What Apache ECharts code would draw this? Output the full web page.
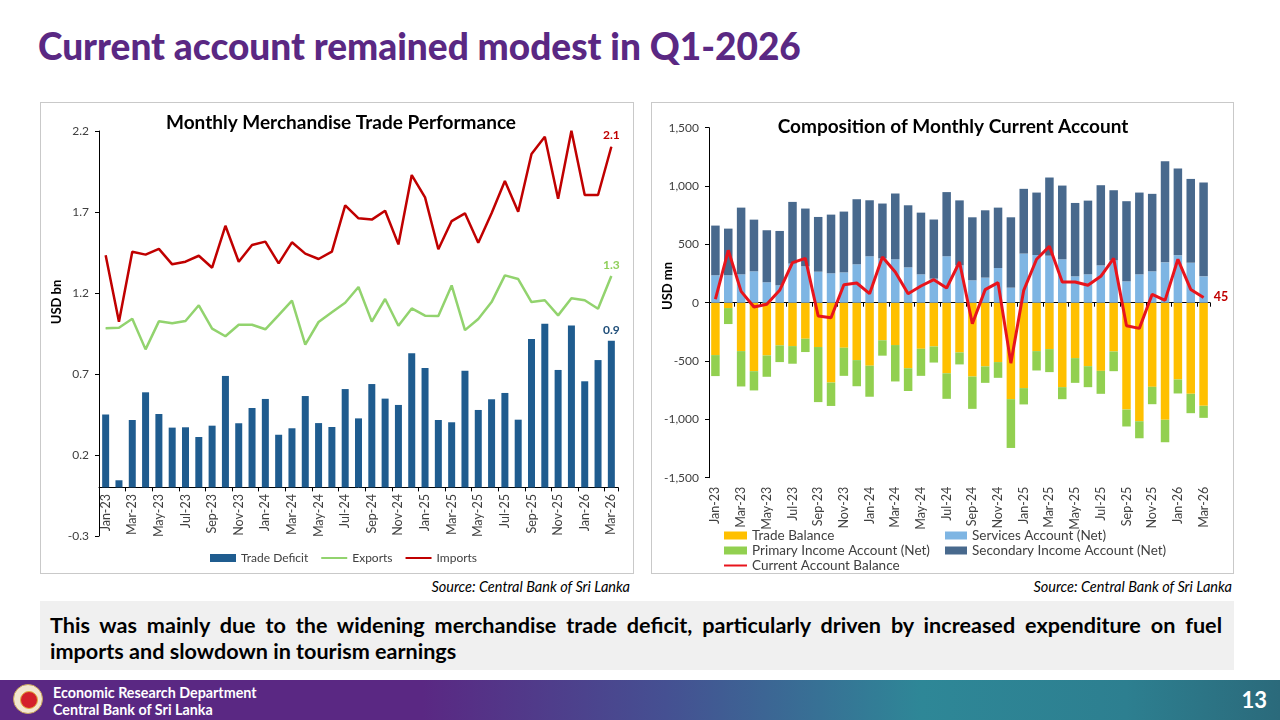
<!DOCTYPE html>
<html><head><meta charset="utf-8">
<script src="https://cdn.jsdelivr.net/npm/echarts@6/dist/echarts.min.js"></script>
<style>
body{margin:0;width:1280px;height:720px;overflow:hidden;background:#fff;font-family:Lato,'Open Sans',sans-serif;position:relative}
#title{position:absolute;left:38px;top:23px;font-size:37px;font-weight:900;color:#5a2883;white-space:nowrap;letter-spacing:0}
.panel{position:absolute;border:1px solid #c9c9c9;box-sizing:border-box}
.src{position:absolute;top:578px;font-size:14.5px;font-style:italic;color:#000}
#box{position:absolute;left:40px;top:601px;width:1194px;height:69px;background:#f0f0f0;box-sizing:border-box;padding:11px 12px 0 10px;font-size:21.6px;font-weight:700;color:#000;line-height:26px}
#box .l1{text-align:justify;text-align-last:justify;white-space:nowrap}
#footer{position:absolute;left:0;top:680px;width:1280px;height:40px;background:linear-gradient(to right,#5a2883 0%,#5a2883 33%,#455092 52%,#2e8797 72%,#2d7f90 88%,#2b6a7b 100%)}
#logo{position:absolute;left:13px;top:4px;width:30px;height:30px;border-radius:50%;background:#f3e6d0;border:1px solid #c9a35a;box-sizing:border-box}
#logo div{position:absolute;left:6px;top:6px;width:16px;height:16px;border-radius:50%;background:#d4202a;border:1px solid #e0b040}
#ft1{position:absolute;left:53px;top:4px;color:#fff;font-size:14.3px;font-weight:700;line-height:17px}
#pg{position:absolute;right:13px;top:6px;color:#fff;font-size:22px;font-weight:700}
#chart{position:absolute;left:0;top:0;width:1280px;height:720px}
</style></head><body>
<div id="title">Current account remained modest in Q1-2026</div>
<div class="panel" style="left:40px;top:102px;width:594px;height:472px"></div>
<div class="panel" style="left:651px;top:102px;width:583px;height:472px"></div>
<div class="src" style="right:650px">Source: Central Bank of Sri Lanka</div>
<div class="src" style="right:48px">Source: Central Bank of Sri Lanka</div>
<div id="box"><div class="l1">This was mainly due to the widening merchandise trade deficit, particularly driven by increased expenditure on fuel</div><div>imports and slowdown in tourism earnings</div></div>
<div id="footer"><div id="logo"><div></div></div><div id="ft1">Economic Research Department<br>Central Bank of Sri Lanka</div><div id="pg">13</div></div>
<div id="chart"></div>
<script>
const months = ['Jan-23','Feb-23','Mar-23','Apr-23','May-23','Jun-23','Jul-23','Aug-23','Sep-23','Oct-23','Nov-23','Dec-23',
'Jan-24','Feb-24','Mar-24','Apr-24','May-24','Jun-24','Jul-24','Aug-24','Sep-24','Oct-24','Nov-24','Dec-24',
'Jan-25','Feb-25','Mar-25','Apr-25','May-25','Jun-25','Jul-25','Aug-25','Sep-25','Oct-25','Nov-25','Dec-25',
'Jan-26','Feb-26','Mar-26'];
// Left chart (USD bn)
const tradeDeficit = [0.45,0.044,0.416,0.587,0.453,0.369,0.371,0.311,0.381,0.688,0.396,0.49,
0.546,0.325,0.365,0.564,0.397,0.373,0.607,0.426,0.638,0.548,0.509,0.828,
0.737,0.416,0.402,0.72,0.478,0.544,0.583,0.418,0.916,1.01,0.725,1.0,
0.655,0.786,0.906];
const exportsBn = [0.982,0.986,1.041,0.852,1.025,1.013,1.027,1.124,0.98,0.933,1.004,1.004,
0.976,1.064,1.153,0.881,1.021,1.081,1.14,1.237,1.023,1.163,0.998,1.105,
1.06,1.058,1.247,0.971,1.04,1.144,1.309,1.286,1.144,1.155,1.062,1.167,
1.155,1.103,1.305];
const importsBn = [1.433,1.023,1.455,1.437,1.472,1.377,1.393,1.43,1.356,1.615,1.393,1.496,
1.517,1.383,1.513,1.443,1.41,1.455,1.741,1.661,1.653,1.708,1.5,1.928,
1.79,1.47,1.644,1.692,1.51,1.692,1.891,1.702,2.058,2.165,1.782,2.202,
1.805,1.805,2.103];
// Right chart (USD mn)
const tradeBalance = [-449,-46,-415,-587,-452,-366,-372,-309,-380,-684,-386,-492,
-540,-322,-363,-562,-395,-375,-605,-426,-633,-546,-509,-827,
-732,-415,-398,-724,-475,-544,-584,-418,-916,-1016,-721,-1004,
-658,-781,-884];
const primaryIncome = [-180,-137,-303,-165,-183,-143,-151,-114,-472,-201,-241,-224,
-266,-132,-312,-195,-232,-138,-219,-103,-277,-141,-135,-418,
-140,-166,-197,-103,-212,-180,-197,-169,-145,-146,-149,-192,
-120,-166,-103];
const servicesNet = [235,235,243,269,175,149,335,312,266,252,260,329,
398,380,372,303,243,206,398,320,192,215,297,129,
421,409,403,372,226,243,320,363,183,243,269,346,
406,343,226];
const secondaryIncome = [426,400,572,443,446,466,529,495,469,503,521,558,
480,470,564,532,529,507,550,557,540,577,518,603,
555,535,670,632,629,632,687,601,687,701,664,867,
744,718,804];
const currentAccount = [31,449,97,-37,-14,106,343,380,-114,-129,154,169,
77,392,263,77,143,197,126,349,-180,112,172,-518,
106,372,483,177,177,149,226,380,-197,-220,72,20,
372,114,45];
const leftTicks = [-0.3,0.2,0.7,1.2,1.7,2.2];
const rightTicks = [-1500,-1000,-500,0,500,1000,1500];

const last = months.length - 1;
const FONT = 'Lato, "Open Sans", sans-serif';
const lastLabel = (color, pos, dec) => ({
  show: true, position: pos, color: color, fontWeight: 'bold', fontSize: 12, fontFamily: FONT, distance: 5,
  formatter: p => p.dataIndex === last ? (dec ? Number(p.value).toFixed(1) : String(p.value)) : ''
});
const hideSym = {color: 'rgba(0,0,0,0)', borderColor: 'rgba(0,0,0,0)', borderWidth: 0};

const chart = echarts.init(document.getElementById('chart'), null, {renderer: 'canvas'});
const xText = {color: '#404040', fontSize: 12.5, fontFamily: FONT};
const yText = {color: '#404040', fontSize: 12, fontFamily: FONT};
chart.setOption({
  animation: false,
  backgroundColor: 'transparent',
  textStyle: {fontFamily: FONT},
  title: [
    {text: 'Monthly Merchandise Trade Performance', left: 336, top: 108, textAlign: 'center',
     textStyle: {fontSize: 19, fontWeight: 'bold', color: '#000', fontFamily: FONT}},
    {text: 'Composition of Monthly Current Account', left: 948, top: 112, textAlign: 'center',
     textStyle: {fontSize: 19, fontWeight: 'bold', color: '#000', fontFamily: FONT}}
  ],
  graphic: [
    {type: 'text', x: 57, y: 302, rotation: Math.PI / 2,
     style: {text: 'USD bn', align: 'center', verticalAlign: 'middle', font: 'bold 13px ' + FONT, fill: '#000'}},
    {type: 'text', x: 668, y: 286, rotation: Math.PI / 2,
     style: {text: 'USD mn', align: 'center', verticalAlign: 'middle', font: 'bold 13px ' + FONT, fill: '#000'}}
  ],
  grid: [
    {left: 99, top: 131, width: 519, height: 405},
    {left: 709, top: 127.7, width: 501, height: 350}
  ],
  legend: [
    {left: 205, top: 547, itemWidth: 26, itemHeight: 8, itemGap: 12,
     textStyle: {fontSize: 12, color: '#404040', fontFamily: FONT},
     data: [{name: 'Trade Deficit', icon: 'rect'}, {name: 'Exports', itemStyle: hideSym}, {name: 'Imports', itemStyle: hideSym}]},
    {left: 718, top: 523, orient: 'vertical', itemWidth: 23, itemHeight: 8, itemGap: 0,
     textStyle: {fontSize: 13.5, color: '#404040', fontFamily: FONT, lineHeight: 15},
     data: [{name: 'Trade Balance', icon: 'rect'}, {name: 'Primary Income Account (Net)', icon: 'rect'},
            {name: 'Current Account Balance', itemStyle: hideSym}]},
    {left: 940, top: 523, orient: 'vertical', itemWidth: 22, itemHeight: 8, itemGap: 0,
     textStyle: {fontSize: 13.5, color: '#404040', fontFamily: FONT, lineHeight: 15},
     data: [{name: 'Services Account (Net)', icon: 'rect'}, {name: 'Secondary Income Account (Net)', icon: 'rect'}]}
  ],
  xAxis: [
    {type: 'category', gridIndex: 0, data: months, boundaryGap: true, position: 'bottom',
     axisLine: {onZero: true, lineStyle: {color: '#000', width: 1}},
     axisTick: {show: true, interval: 1, length: 4, lineStyle: {color: '#000'}},
     axisLabel: {show: false}},
    {type: 'category', gridIndex: 0, data: months, boundaryGap: true, position: 'bottom',
     axisLine: {show: false, onZero: false}, axisTick: {show: false},
     axisLabel: Object.assign({interval: 1, rotate: 90, margin: -42}, xText)},
    {type: 'category', gridIndex: 1, data: months, boundaryGap: true, position: 'bottom',
     axisLine: {onZero: true, lineStyle: {color: '#000', width: 1}},
     axisTick: {show: true, interval: 1, length: 4, lineStyle: {color: '#000'}},
     axisLabel: {show: false}},
    {type: 'category', gridIndex: 1, data: months, boundaryGap: true, position: 'bottom',
     axisLine: {show: false, onZero: false}, axisTick: {show: false},
     axisLabel: Object.assign({interval: 1, rotate: 90, margin: 9}, xText)}
  ],
  yAxis: [
    {type: 'value', gridIndex: 0, min: leftTicks[0], max: leftTicks[leftTicks.length - 1], interval: 0.5,
     axisLine: {show: true, lineStyle: {color: '#000'}},
     axisTick: {show: true, length: 4, lineStyle: {color: '#000'}},
     splitLine: {show: false},
     axisLabel: Object.assign({formatter: v => v.toFixed(1), margin: 10}, yText)},
    {type: 'value', gridIndex: 1, min: rightTicks[0], max: rightTicks[rightTicks.length - 1], interval: 500,
     axisLine: {show: true, lineStyle: {color: '#000'}},
     axisTick: {show: true, length: 4, lineStyle: {color: '#000'}},
     splitLine: {show: false},
     axisLabel: Object.assign({formatter: v => v.toLocaleString('en-US'), margin: 10}, yText)}
  ],
  series: [
    {name: 'Trade Deficit', type: 'bar', xAxisIndex: 0, yAxisIndex: 0, data: tradeDeficit, barWidth: 7,
     itemStyle: {color: '#1f5c8f'}, label: lastLabel('#1f4e79', 'top', true)},
    {name: 'Exports', type: 'line', xAxisIndex: 0, yAxisIndex: 0, data: exportsBn,
     symbol: 'circle', symbolSize: 0.5, showAllSymbol: true,
     lineStyle: {color: '#92d36e', width: 2.5}, itemStyle: {color: '#92d36e'},
     label: lastLabel('#8fcf5a', 'top', true)},
    {name: 'Imports', type: 'line', xAxisIndex: 0, yAxisIndex: 0, data: importsBn,
     symbol: 'circle', symbolSize: 0.5, showAllSymbol: true,
     lineStyle: {color: '#c00000', width: 2.5}, itemStyle: {color: '#c00000'},
     label: lastLabel('#c00000', 'top', true)},
    {name: 'Trade Balance', type: 'bar', xAxisIndex: 2, yAxisIndex: 1, stack: 'ca', data: tradeBalance, barWidth: 8.5,
     itemStyle: {color: '#ffc000'}},
    {name: 'Primary Income Account (Net)', type: 'bar', xAxisIndex: 2, yAxisIndex: 1, stack: 'ca', data: primaryIncome, barWidth: 8.5,
     itemStyle: {color: '#92d050'}},
    {name: 'Services Account (Net)', type: 'bar', xAxisIndex: 2, yAxisIndex: 1, stack: 'ca', data: servicesNet, barWidth: 8.5,
     itemStyle: {color: '#7eb5e3'}},
    {name: 'Secondary Income Account (Net)', type: 'bar', xAxisIndex: 2, yAxisIndex: 1, stack: 'ca', data: secondaryIncome, barWidth: 8.5,
     itemStyle: {color: '#48698d'}},
    {name: 'Current Account Balance', type: 'line', xAxisIndex: 2, yAxisIndex: 1, data: currentAccount,
     symbol: 'circle', symbolSize: 0.5, showAllSymbol: true,
     lineStyle: {color: '#e8141c', width: 3}, itemStyle: {color: '#e8141c'}, z: 5,
     label: Object.assign(lastLabel('#c00000', 'right', false), {distance: 10, fontSize: 12.5})}
  ]
});
</script>
</body></html>
